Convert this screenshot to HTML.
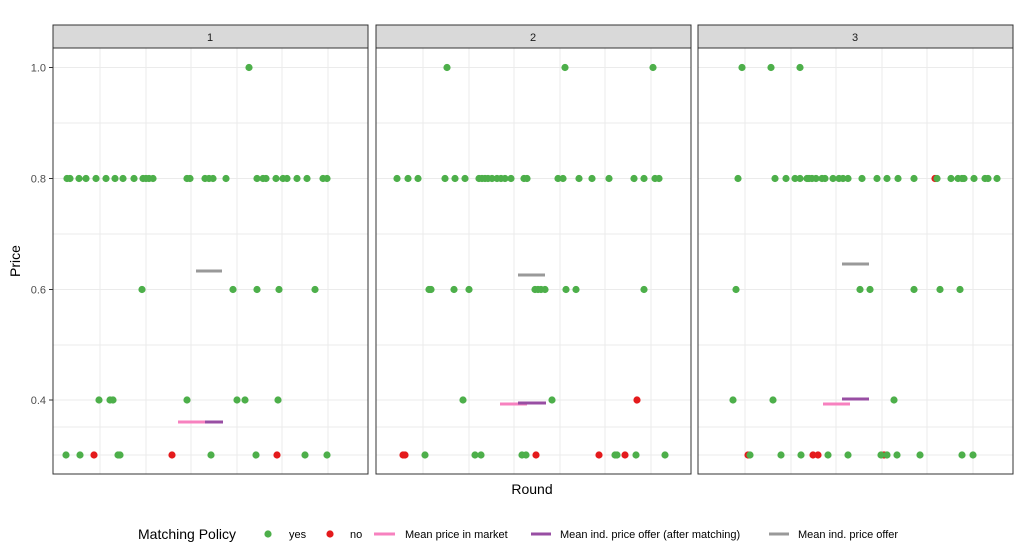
<!DOCTYPE html>
<html><head><meta charset="utf-8"><style>body{margin:0;background:#fff}svg{display:block;font-family:"Liberation Sans",sans-serif}</style></head><body>
<svg width="1025" height="552" xmlns="http://www.w3.org/2000/svg">
<defs>
<g id="grid">
<rect x="0" y="48" width="315" height="426" fill="#fff"/>
<g stroke="#ebebeb" stroke-width="1">
<line x1="0" x2="315" y1="123" y2="123"/><line x1="0" x2="315" y1="234" y2="234"/><line x1="0" x2="315" y1="345" y2="345"/><line x1="0" x2="315" y1="427" y2="427"/>
<line x1="0" x2="315" y1="67.5" y2="67.5"/><line x1="0" x2="315" y1="178.5" y2="178.5"/><line x1="0" x2="315" y1="289.5" y2="289.5"/><line x1="0" x2="315" y1="400" y2="400"/><line x1="0" x2="315" y1="455" y2="455"/>
<line y1="48" y2="474" x1="47" x2="47"/><line y1="48" y2="474" x1="93" x2="93"/><line y1="48" y2="474" x1="138" x2="138"/><line y1="48" y2="474" x1="184" x2="184"/><line y1="48" y2="474" x1="229" x2="229"/><line y1="48" y2="474" x1="275" x2="275"/>
</g>
<rect x="0" y="25" width="315" height="23" fill="#d9d9d9" stroke="#333" stroke-width="1"/>
<rect x="0" y="48" width="315" height="426" fill="none" stroke="#333" stroke-width="1"/>
</g>
</defs>
<use href="#grid" x="53"/><use href="#grid" x="376"/><use href="#grid" x="698"/>
<g font-size="11" fill="#1a1a1a" text-anchor="middle"><text x="210" y="41">1</text><text x="533" y="41">2</text><text x="855" y="41">3</text></g>
<g font-size="11" fill="#4d4d4d" text-anchor="end"><text x="46" y="71.5">1.0</text><text x="46" y="182.5">0.8</text><text x="46" y="293.5">0.6</text><text x="46" y="404">0.4</text></g>
<g stroke="#333"><line x1="49" x2="53" y1="67.5" y2="67.5"/><line x1="49" x2="53" y1="178.5" y2="178.5"/><line x1="49" x2="53" y1="289.5" y2="289.5"/><line x1="49" x2="53" y1="400" y2="400"/></g>
<text x="532" y="494" font-size="14" text-anchor="middle">Round</text>
<text transform="translate(20,261) rotate(-90)" font-size="14" text-anchor="middle">Price</text>
<g stroke-width="3">
<line x1="178" x2="205" y1="422" y2="422" stroke="#f781bf"/><line x1="205" x2="223" y1="422" y2="422" stroke="#984ea3"/><line x1="196" x2="222" y1="271" y2="271" stroke="#999"/>
<line x1="500" x2="527" y1="404" y2="404" stroke="#f781bf"/><line x1="518" x2="546" y1="403" y2="403" stroke="#984ea3"/><line x1="518" x2="545" y1="275" y2="275" stroke="#999"/>
<line x1="823" x2="850" y1="404" y2="404" stroke="#f781bf"/><line x1="842" x2="869" y1="399" y2="399" stroke="#984ea3"/><line x1="842" x2="869" y1="264" y2="264" stroke="#999"/>
</g>
<g fill="#4daf4a">
<!-- panel1 -->
<circle cx="67" cy="178.5" r="3.6"/><circle cx="70" cy="178.5" r="3.6"/><circle cx="79" cy="178.5" r="3.6"/><circle cx="86" cy="178.5" r="3.6"/><circle cx="96" cy="178.5" r="3.6"/><circle cx="106" cy="178.5" r="3.6"/><circle cx="115" cy="178.5" r="3.6"/><circle cx="123" cy="178.5" r="3.6"/><circle cx="134" cy="178.5" r="3.6"/><circle cx="143" cy="178.5" r="3.6"/><circle cx="146" cy="178.5" r="3.6"/><circle cx="149" cy="178.5" r="3.6"/><circle cx="153" cy="178.5" r="3.6"/><circle cx="187" cy="178.5" r="3.6"/><circle cx="190" cy="178.5" r="3.6"/><circle cx="205" cy="178.5" r="3.6"/><circle cx="209" cy="178.5" r="3.6"/><circle cx="213" cy="178.5" r="3.6"/><circle cx="226" cy="178.5" r="3.6"/><circle cx="257" cy="178.5" r="3.6"/><circle cx="263" cy="178.5" r="3.6"/><circle cx="266" cy="178.5" r="3.6"/><circle cx="276" cy="178.5" r="3.6"/><circle cx="283" cy="178.5" r="3.6"/><circle cx="287" cy="178.5" r="3.6"/><circle cx="297" cy="178.5" r="3.6"/><circle cx="307" cy="178.5" r="3.6"/><circle cx="323" cy="178.5" r="3.6"/><circle cx="327" cy="178.5" r="3.6"/>
<circle cx="249" cy="67.5" r="3.6"/>
<circle cx="142" cy="289.5" r="3.6"/><circle cx="233" cy="289.5" r="3.6"/><circle cx="257" cy="289.5" r="3.6"/><circle cx="279" cy="289.5" r="3.6"/><circle cx="315" cy="289.5" r="3.6"/>
<circle cx="99" cy="400" r="3.6"/><circle cx="110" cy="400" r="3.6"/><circle cx="113" cy="400" r="3.6"/><circle cx="187" cy="400" r="3.6"/><circle cx="237" cy="400" r="3.6"/><circle cx="245" cy="400" r="3.6"/><circle cx="278" cy="400" r="3.6"/>
<circle cx="66" cy="455" r="3.6"/><circle cx="80" cy="455" r="3.6"/><circle cx="118" cy="455" r="3.6"/><circle cx="120" cy="455" r="3.6"/><circle cx="211" cy="455" r="3.6"/><circle cx="256" cy="455" r="3.6"/><circle cx="305" cy="455" r="3.6"/><circle cx="327" cy="455" r="3.6"/>
<!-- panel2 -->
<circle cx="397" cy="178.5" r="3.6"/><circle cx="408" cy="178.5" r="3.6"/><circle cx="418" cy="178.5" r="3.6"/><circle cx="445" cy="178.5" r="3.6"/><circle cx="455" cy="178.5" r="3.6"/><circle cx="465" cy="178.5" r="3.6"/><circle cx="479" cy="178.5" r="3.6"/><circle cx="482" cy="178.5" r="3.6"/><circle cx="485" cy="178.5" r="3.6"/><circle cx="488" cy="178.5" r="3.6"/><circle cx="492" cy="178.5" r="3.6"/><circle cx="497" cy="178.5" r="3.6"/><circle cx="501" cy="178.5" r="3.6"/><circle cx="505" cy="178.5" r="3.6"/><circle cx="511" cy="178.5" r="3.6"/><circle cx="524" cy="178.5" r="3.6"/><circle cx="527" cy="178.5" r="3.6"/><circle cx="558" cy="178.5" r="3.6"/><circle cx="563" cy="178.5" r="3.6"/><circle cx="579" cy="178.5" r="3.6"/><circle cx="592" cy="178.5" r="3.6"/><circle cx="609" cy="178.5" r="3.6"/><circle cx="634" cy="178.5" r="3.6"/><circle cx="644" cy="178.5" r="3.6"/><circle cx="655" cy="178.5" r="3.6"/><circle cx="659" cy="178.5" r="3.6"/>
<circle cx="447" cy="67.5" r="3.6"/><circle cx="565" cy="67.5" r="3.6"/><circle cx="653" cy="67.5" r="3.6"/>
<circle cx="429" cy="289.5" r="3.6"/><circle cx="431" cy="289.5" r="3.6"/><circle cx="454" cy="289.5" r="3.6"/><circle cx="469" cy="289.5" r="3.6"/><circle cx="535" cy="289.5" r="3.6"/><circle cx="538" cy="289.5" r="3.6"/><circle cx="541" cy="289.5" r="3.6"/><circle cx="545" cy="289.5" r="3.6"/><circle cx="566" cy="289.5" r="3.6"/><circle cx="576" cy="289.5" r="3.6"/><circle cx="644" cy="289.5" r="3.6"/>
<circle cx="463" cy="400" r="3.6"/><circle cx="552" cy="400" r="3.6"/>
<circle cx="425" cy="455" r="3.6"/><circle cx="475" cy="455" r="3.6"/><circle cx="481" cy="455" r="3.6"/><circle cx="522" cy="455" r="3.6"/><circle cx="526" cy="455" r="3.6"/><circle cx="615" cy="455" r="3.6"/><circle cx="617" cy="455" r="3.6"/><circle cx="636" cy="455" r="3.6"/><circle cx="665" cy="455" r="3.6"/>
<!-- panel3 -->
<circle cx="738" cy="178.5" r="3.6"/><circle cx="775" cy="178.5" r="3.6"/><circle cx="786" cy="178.5" r="3.6"/><circle cx="795" cy="178.5" r="3.6"/><circle cx="800" cy="178.5" r="3.6"/><circle cx="807" cy="178.5" r="3.6"/><circle cx="809" cy="178.5" r="3.6"/><circle cx="812" cy="178.5" r="3.6"/><circle cx="816" cy="178.5" r="3.6"/><circle cx="822" cy="178.5" r="3.6"/><circle cx="825" cy="178.5" r="3.6"/><circle cx="833" cy="178.5" r="3.6"/><circle cx="839" cy="178.5" r="3.6"/><circle cx="843" cy="178.5" r="3.6"/><circle cx="848" cy="178.5" r="3.6"/><circle cx="862" cy="178.5" r="3.6"/><circle cx="877" cy="178.5" r="3.6"/><circle cx="887" cy="178.5" r="3.6"/><circle cx="898" cy="178.5" r="3.6"/><circle cx="914" cy="178.5" r="3.6"/><circle cx="951" cy="178.5" r="3.6"/><circle cx="958" cy="178.5" r="3.6"/><circle cx="962" cy="178.5" r="3.6"/><circle cx="964" cy="178.5" r="3.6"/><circle cx="974" cy="178.5" r="3.6"/><circle cx="985" cy="178.5" r="3.6"/><circle cx="988" cy="178.5" r="3.6"/><circle cx="997" cy="178.5" r="3.6"/>
<circle cx="742" cy="67.5" r="3.6"/><circle cx="771" cy="67.5" r="3.6"/><circle cx="800" cy="67.5" r="3.6"/>
<circle cx="736" cy="289.5" r="3.6"/><circle cx="860" cy="289.5" r="3.6"/><circle cx="870" cy="289.5" r="3.6"/><circle cx="914" cy="289.5" r="3.6"/><circle cx="940" cy="289.5" r="3.6"/><circle cx="960" cy="289.5" r="3.6"/>
<circle cx="733" cy="400" r="3.6"/><circle cx="773" cy="400" r="3.6"/><circle cx="894" cy="400" r="3.6"/>
<circle cx="781" cy="455" r="3.6"/><circle cx="801" cy="455" r="3.6"/><circle cx="828" cy="455" r="3.6"/><circle cx="848" cy="455" r="3.6"/><circle cx="920" cy="455" r="3.6"/><circle cx="962" cy="455" r="3.6"/><circle cx="973" cy="455" r="3.6"/>
</g>
<g fill="#e41a1c">
<circle cx="94" cy="455" r="3.6"/><circle cx="172" cy="455" r="3.6"/><circle cx="277" cy="455" r="3.6"/>
<circle cx="403" cy="455" r="3.6"/><circle cx="405" cy="455" r="3.6"/><circle cx="536" cy="455" r="3.6"/><circle cx="599" cy="455" r="3.6"/><circle cx="625" cy="455" r="3.6"/><circle cx="637" cy="400" r="3.6"/>
<circle cx="748" cy="455" r="3.6"/><circle cx="813" cy="455" r="3.6"/><circle cx="818" cy="455" r="3.6"/><circle cx="884" cy="455" r="3.6"/><circle cx="935" cy="178.5" r="3.6"/>
</g>
<g fill="#4daf4a"><circle cx="750" cy="455" r="3.6"/><circle cx="881" cy="455" r="3.6"/><circle cx="887" cy="455" r="3.6"/><circle cx="897" cy="455" r="3.6"/><circle cx="937" cy="178.5" r="3.6"/></g>
<text x="138" y="539" font-size="14">Matching Policy</text>
<circle cx="268" cy="534" r="3.6" fill="#4daf4a"/><text x="289" y="538" font-size="11">yes</text>
<circle cx="330" cy="534" r="3.6" fill="#e41a1c"/><text x="350" y="538" font-size="11">no</text>
<line x1="374" x2="395" y1="534" y2="534" stroke="#f781bf" stroke-width="3"/><text x="405" y="538" font-size="11">Mean price in market</text>
<line x1="531" x2="551" y1="534" y2="534" stroke="#984ea3" stroke-width="3"/><text x="560" y="538" font-size="11">Mean ind. price offer (after matching)</text>
<line x1="769" x2="789" y1="534" y2="534" stroke="#999" stroke-width="3"/><text x="798" y="538" font-size="11">Mean ind. price offer</text>
</svg>
</body></html>
